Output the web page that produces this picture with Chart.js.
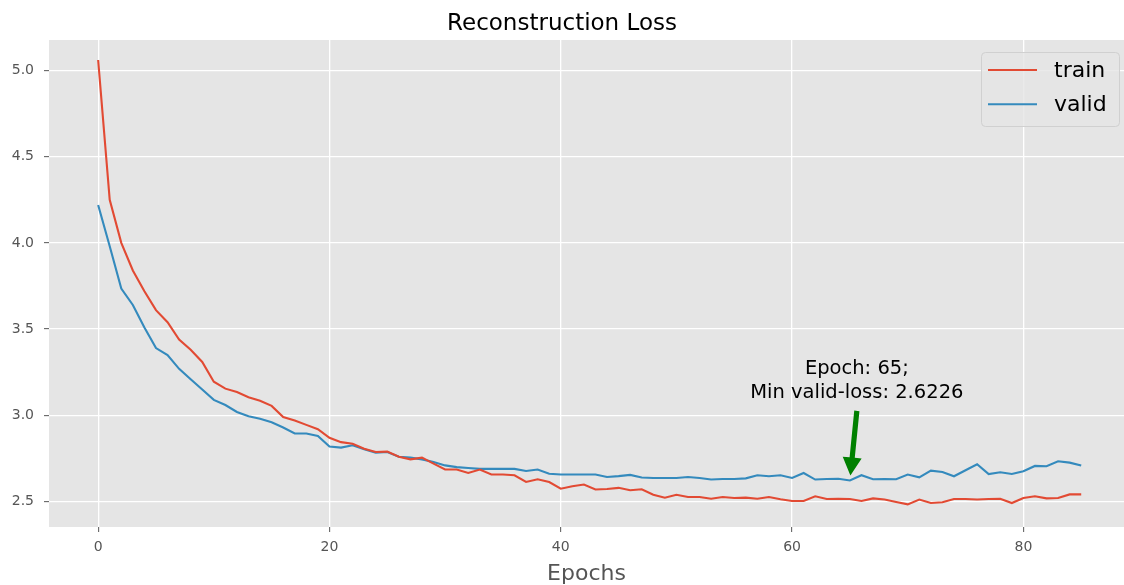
<!DOCTYPE html>
<html>
<head>
<meta charset="utf-8">
<script src="https://cdn.jsdelivr.net/npm/chart.js@4.4.1/dist/chart.umd.min.js"></script>
<style>
  html, body { margin: 0; padding: 0; background: #ffffff; }
  #wrap { width: 1124px; height: 585px; }
</style>
</head>
<body>
<div id="wrap"><canvas id="c" width="1124" height="585"></canvas></div>
<script>
// ---- data ----
const trainLoss = [
  5.06, 4.25, 4.00, 3.84, 3.72, 3.61, 3.54, 3.44, 3.38, 3.31,
  3.195, 3.155, 3.135, 3.105, 3.085, 3.055, 2.99, 2.97, 2.945, 2.92,
  2.87, 2.845, 2.836, 2.807, 2.788, 2.79, 2.76, 2.745, 2.755, 2.72,
  2.686, 2.686, 2.666, 2.686, 2.657, 2.657, 2.653, 2.614, 2.63, 2.614,
  2.575, 2.589, 2.599, 2.57, 2.573, 2.58, 2.566, 2.572, 2.54, 2.523,
  2.54, 2.527, 2.527, 2.517, 2.527, 2.521, 2.523, 2.517, 2.527, 2.514,
  2.504, 2.504, 2.531, 2.515, 2.517, 2.515, 2.504, 2.519, 2.512, 2.498,
  2.484, 2.512, 2.492, 2.496, 2.515, 2.515, 2.512, 2.515, 2.517, 2.492,
  2.521, 2.531, 2.519, 2.521, 2.542, 2.542
];
const validLoss = [
  4.22, 3.98, 3.735, 3.64, 3.51, 3.39, 3.35, 3.27, 3.21, 3.15,
  3.09, 3.06, 3.02, 2.995, 2.98, 2.96, 2.93, 2.895, 2.895, 2.88,
  2.82, 2.813, 2.827, 2.804, 2.784, 2.788, 2.76, 2.755, 2.745, 2.73,
  2.71, 2.70, 2.695, 2.69, 2.69, 2.69, 2.69, 2.678, 2.686, 2.662,
  2.657, 2.657, 2.657, 2.657, 2.643, 2.648, 2.655, 2.64, 2.637, 2.637,
  2.637, 2.643, 2.637, 2.628, 2.631, 2.631, 2.635, 2.653, 2.647, 2.653,
  2.637, 2.666, 2.628, 2.631, 2.633, 2.6226, 2.653, 2.63, 2.631, 2.63,
  2.657, 2.641, 2.68, 2.672, 2.647, 2.682, 2.717, 2.66, 2.67, 2.66,
  2.676, 2.707, 2.705, 2.734, 2.726, 2.709
];
const epochs = trainLoss.map((_, i) => i);
const xTicks = [0, 20, 40, 60, 80];
const yTicks = [2.5, 3.0, 3.5, 4.0, 4.5, 5.0];
const seriesNames = ['train', 'valid'];
const bestEpoch = 65;
const bestLoss = 2.6226;
const annotationLines = ['Epoch: 65;', 'Min valid-loss: 2.6226'];
const annotationTextAt = [65.6, 3.2];
// ---- styles ----
const FONT = "'DejaVu Sans', 'Liberation Sans', sans-serif";
const C_TRAIN = '#E24A33';
const C_VALID = '#348ABD';

const bgPlugin = {
  id: 'bg',
  beforeDraw(chart) {
    const {ctx, chartArea: a} = chart;
    ctx.save();
    ctx.fillStyle = '#E5E5E5';
    ctx.fillRect(a.left, a.top, a.right - a.left, a.bottom - a.top);
    ctx.restore();
  }
};

const overlayPlugin = {
  id: 'overlay',
  afterDraw(chart) {
    const {ctx, chartArea: a, scales} = chart;
    const xs = scales.x, ys = scales.y;
    ctx.save();
    // annotation text
    const tx = xs.getPixelForValue(annotationTextAt[0]);
    const ty = ys.getPixelForValue(annotationTextAt[1]);
    ctx.font = "19.5px " + FONT;
    ctx.fillStyle = '#000';
    ctx.textAlign = 'center';
    ctx.textBaseline = 'middle';
    const lh = 24;
    ctx.fillText(annotationLines[0], tx, ty - lh / 2);
    ctx.fillText(annotationLines[1], tx, ty + lh / 2);
    // arrow
    const px = xs.getPixelForValue(bestEpoch), py = ys.getPixelForValue(bestLoss);
    const sx = tx, sy = ty + lh + 6;
    let dx = px - sx, dy = py - sy;
    const len = Math.hypot(dx, dy);
    const ux = dx / len, uy = dy / len;
    const ex = px - ux * 5, ey = py - uy * 5;
    const L = len - 5;
    const headL = 18, headW = 9.5, shaftW = 2.6;
    const nx = -uy, ny = ux;
    const bx = sx + ux * (L - headL), by = sy + uy * (L - headL);
    ctx.beginPath();
    ctx.moveTo(sx + nx * shaftW, sy + ny * shaftW);
    ctx.lineTo(bx + nx * shaftW, by + ny * shaftW);
    ctx.lineTo(bx + nx * headW, by + ny * headW);
    ctx.lineTo(ex, ey);
    ctx.lineTo(bx - nx * headW, by - ny * headW);
    ctx.lineTo(bx - nx * shaftW, by - ny * shaftW);
    ctx.lineTo(sx - nx * shaftW, sy - ny * shaftW);
    ctx.closePath();
    ctx.fillStyle = '#008000';
    ctx.fill();
    // legend
    const bx0 = a.right - 143, by0 = a.top + 12, bw = 138, bh = 74;
    ctx.beginPath();
    ctx.roundRect(bx0 + 0.5, by0 + 0.5, bw, bh, 4);
    ctx.fillStyle = 'rgba(229,229,229,0.8)';
    ctx.fill();
    ctx.strokeStyle = '#D0D0D0';
    ctx.lineWidth = 1;
    ctx.stroke();
    const colors = [C_TRAIN, C_VALID];
    ctx.font = "22px " + FONT;
    ctx.textAlign = 'left';
    ctx.textBaseline = 'middle';
    seriesNames.forEach((name, i) => {
      const yy = by0 + 18 + i * 34.3;
      ctx.beginPath();
      ctx.moveTo(bx0 + 7, yy);
      ctx.lineTo(bx0 + 56, yy);
      ctx.strokeStyle = colors[i];
      ctx.lineWidth = 2;
      ctx.stroke();
      ctx.fillStyle = '#000';
      ctx.fillText(name, bx0 + 73, yy + 1);
    });
    ctx.restore();
  }
};

new Chart(document.getElementById('c'), {
  type: 'line',
  data: {
    datasets: [
      { label: seriesNames[0], data: epochs.map((e, i) => ({x: e, y: trainLoss[i]})),
        borderColor: C_TRAIN, borderWidth: 2.1, pointRadius: 0, tension: 0, fill: false },
      { label: seriesNames[1], data: epochs.map((e, i) => ({x: e, y: validLoss[i]})),
        borderColor: C_VALID, borderWidth: 2.1, pointRadius: 0, tension: 0, fill: false }
    ]
  },
  options: {
    responsive: false,
    animation: false,
    devicePixelRatio: 1,
    layout: { padding: 0 },
    plugins: {
      legend: { display: false },
      tooltip: { enabled: false },
      title: {
        display: true,
        text: 'Reconstruction Loss',
        color: '#000',
        font: { family: FONT, size: 23, weight: 'normal' },
        padding: { top: 10, bottom: 2.4 }
      }
    },
    scales: {
      x: {
        type: 'linear',
        min: -4.25,
        max: 88.7,
        afterBuildTicks: s => { s.ticks = xTicks.map(v => ({value: v})); },
        afterFit: s => { s.height = 58; },
        border: { display: false },
        grid: { color: '#FFFFFF', lineWidth: 1.3, drawTicks: true, tickLength: 5, tickColor: '#555555', tickWidth: 1 },
        ticks: { color: '#555555', font: { family: FONT, size: 14 }, padding: 7, maxRotation: 0,
                 callback: v => String(v) },
        title: { display: true, text: 'Epochs', color: '#555555',
                 font: { family: FONT, size: 22 }, padding: { top: 0, bottom: -2 } }
      },
      y: {
        type: 'linear',
        min: 2.353,
        max: 5.176,
        afterBuildTicks: s => { s.ticks = yTicks.map(v => ({value: v})); },
        afterFit: s => { s.width = 49; },
        border: { display: false },
        grid: { color: '#FFFFFF', lineWidth: 1.3, drawTicks: true, tickLength: 5, tickColor: '#555555', tickWidth: 1 },
        ticks: { color: '#555555', font: { family: FONT, size: 14 }, padding: 10,
                 callback: v => v.toFixed(1) }
      }
    }
  },
  plugins: [bgPlugin, overlayPlugin]
});
</script>
</body>
</html>
